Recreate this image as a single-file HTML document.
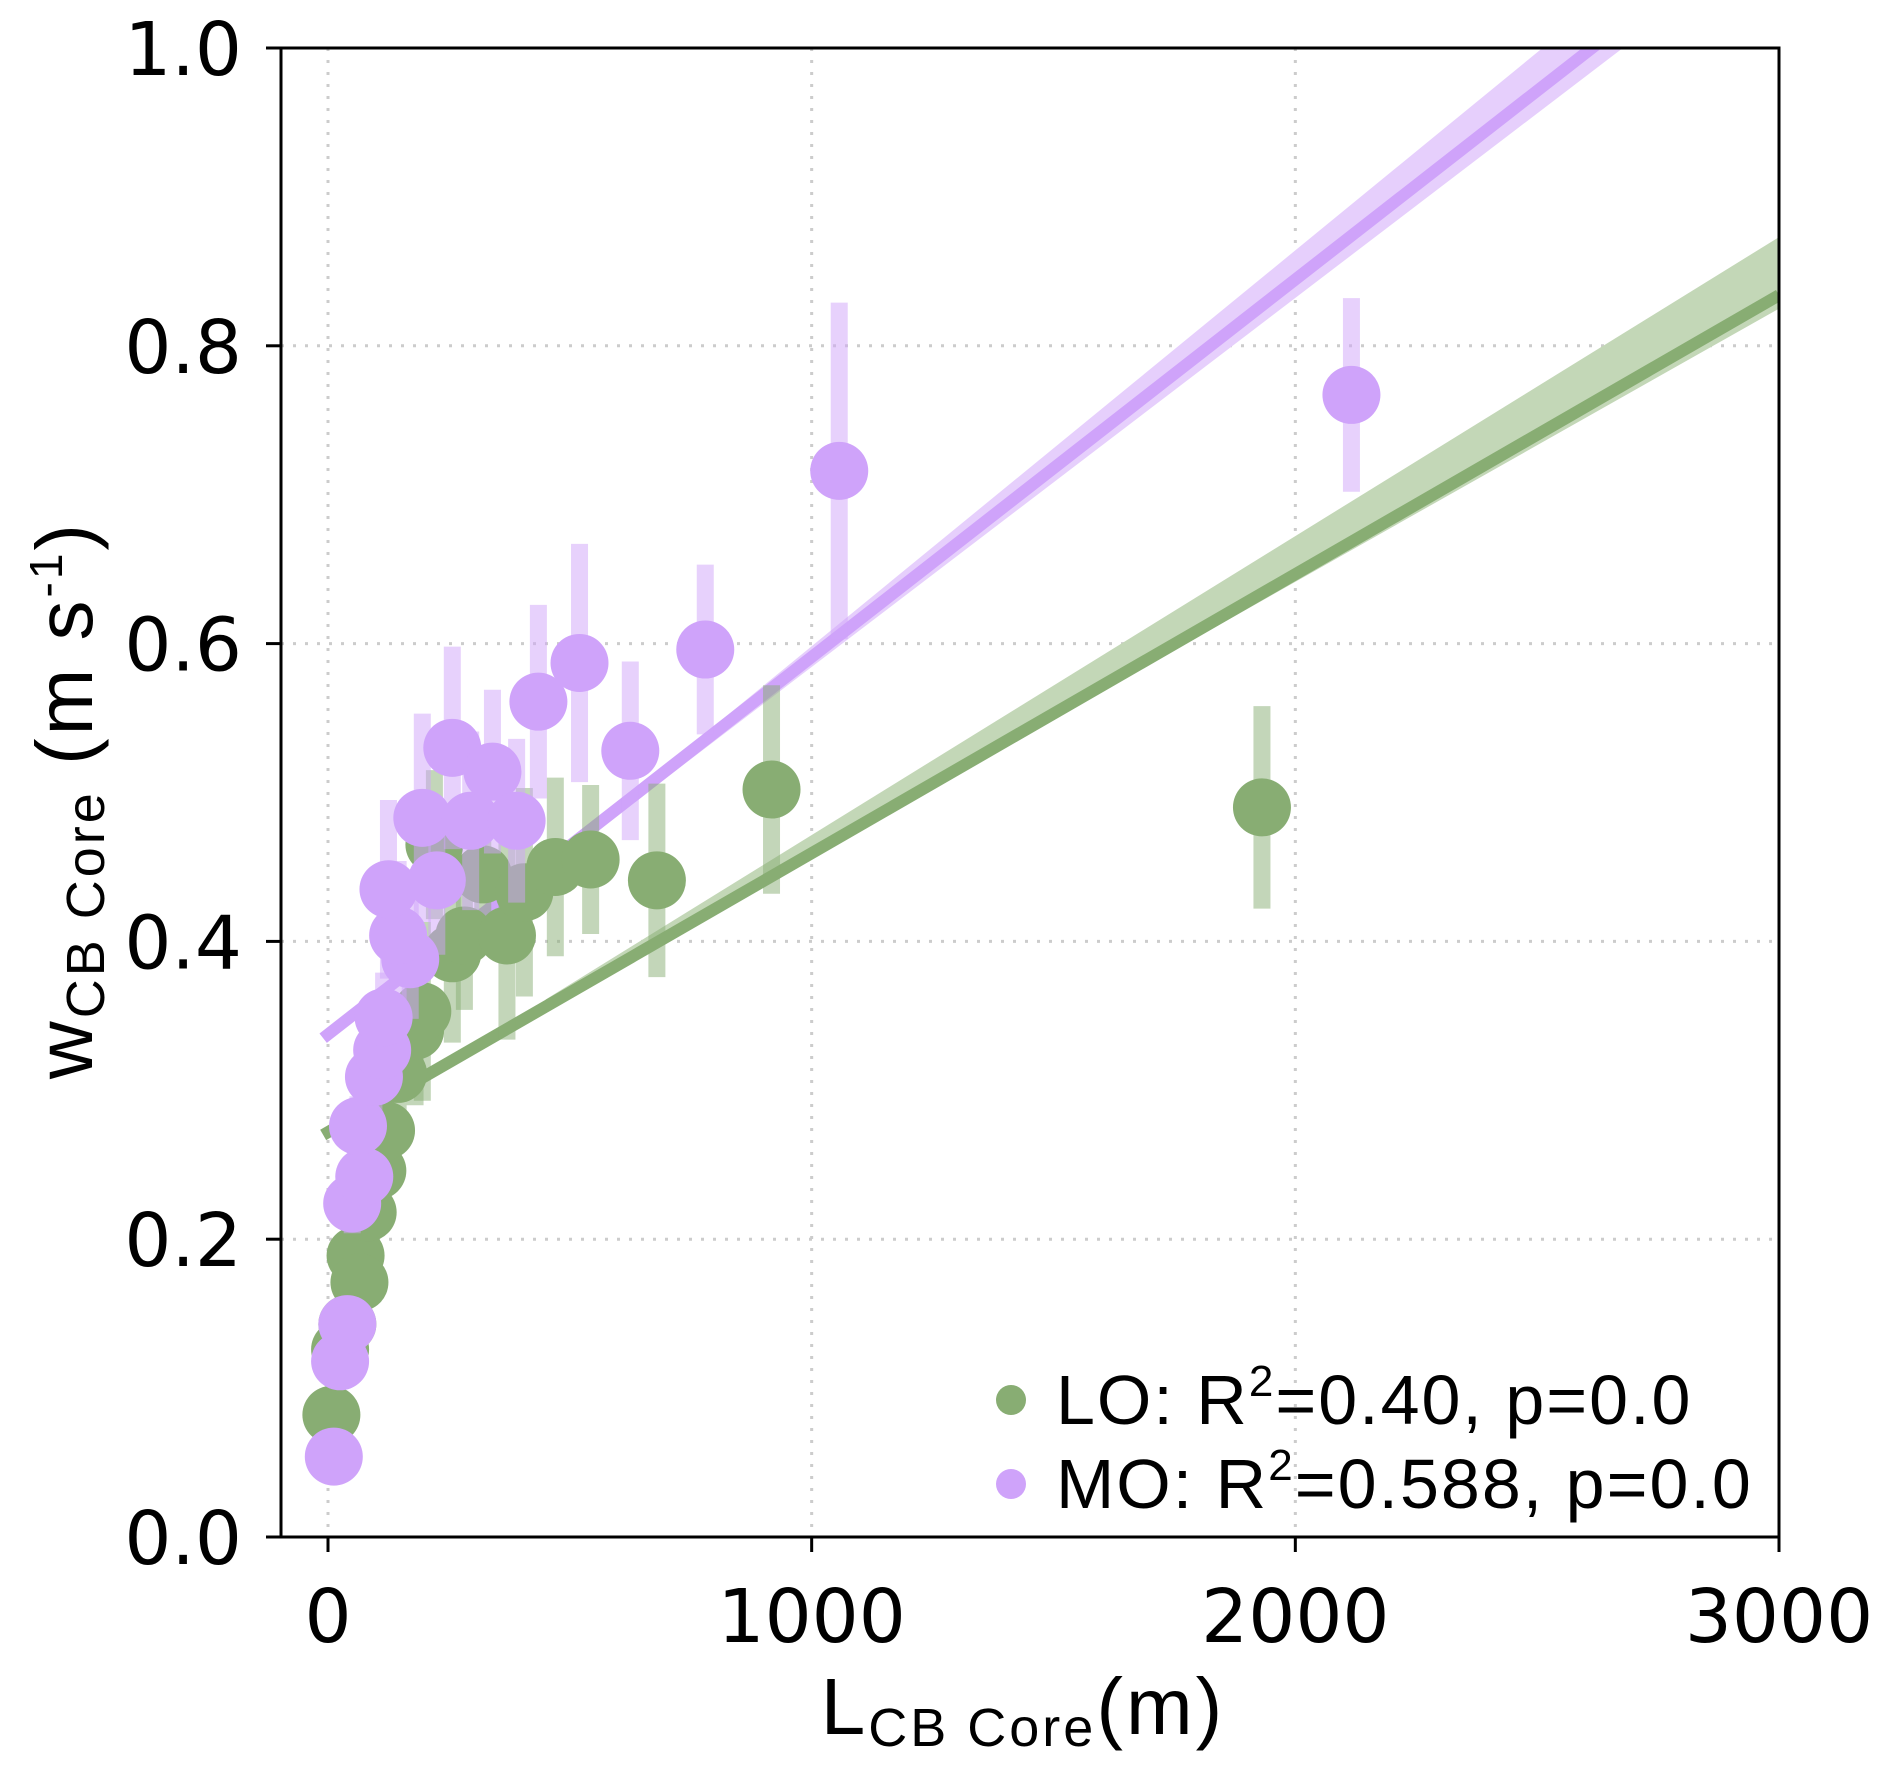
<!DOCTYPE html>
<html><head><meta charset="utf-8"><style>
html,body{margin:0;padding:0;background:#fff}
svg{display:block}
text{font-family:"DejaVu Sans","Liberation Sans",sans-serif;fill:#000}
.lab{font-family:"Liberation Sans","DejaVu Sans",sans-serif}
</style></head><body>
<svg id="chart" width="1892" height="1776" viewBox="0 0 1892 1776" xmlns="http://www.w3.org/2000/svg">
<defs><clipPath id="clip"><rect x="281" y="48" width="1498" height="1489"/></clipPath></defs>
<g id="grid"></g>
<g id="plot" clip-path="url(#clip)"></g>
<rect x="281" y="48" width="1498" height="1489" fill="none" stroke="#000" stroke-width="3"/>
<g id="ticks"></g>
<text class="lab" x="1023" y="1734" font-size="80" text-anchor="middle" letter-spacing="3">L<tspan font-size="54" dy="12">CB Core</tspan><tspan dy="-12">(m)</tspan></text>
<text class="lab" transform="translate(92,800) rotate(-90)" font-size="80" text-anchor="middle" letter-spacing="3">w<tspan font-size="54" dy="12">CB Core</tspan><tspan dy="-12"> (m s</tspan><tspan font-size="46" dy="-30">-1</tspan><tspan dy="30">)</tspan></text>
<g>
<g><circle cx="1011" cy="1400" r="15" fill="#88ad73"/><text class="lab" x="1056" y="1424" font-size="70" letter-spacing="2">LO: R<tspan font-size="44" dy="-28">2</tspan><tspan dy="28">=0.40, p=0.0</tspan></text></g>
<g><circle cx="1011" cy="1484" r="15" fill="#cfa3fa"/><text class="lab" x="1056" y="1508" font-size="70" letter-spacing="2">MO: R<tspan font-size="44" dy="-28">2</tspan><tspan dy="28">=0.588, p=0.0</tspan></text></g>
</g>
</svg>
<script>
const xTicks=[0,1000,2000,3000];
const yTicks=[0,0.2,0.4,0.6,0.8,1.0];
const yTickLabels=["0.0","0.2","0.4","0.6","0.8","1.0"];
const loX=[7,25,40,57,65,82,102,120,145,180,195,257,282,370,320,406,470,543,680,220,917,1931];
const loY=[0.082,0.126,0.143,0.189,0.171,0.218,0.246,0.273,0.311,0.34,0.353,0.392,0.404,0.404,0.445,0.433,0.45,0.455,0.441,0.465,0.502,0.49];
const loErr=[0.01,0.015,0.015,0.02,0.02,0.025,0.03,0.03,0.03,0.05,0.06,0.06,0.05,0.07,0.05,0.07,0.06,0.05,0.065,0.05,0.07,0.068];
const moX=[12,25,40,50,75,62,95,112,115,170,145,125,225,195,257,295,340,390,435,520,625,780,1057,2116];
const moY=[0.054,0.118,0.143,0.224,0.242,0.276,0.309,0.327,0.349,0.388,0.404,0.435,0.441,0.483,0.530,0.481,0.514,0.481,0.561,0.587,0.528,0.596,0.716,0.767];
const moErr=[0.01,0.015,0.015,0.02,0.02,0.02,0.025,0.03,0.03,0.04,0.05,0.06,0.05,0.07,0.068,0.06,0.055,0.055,0.065,0.08,0.06,0.057,0.113,0.065];
const fitX=[-10,3000];
const loFitY=[0.270,0.834];
const moFitY=[0.335,1.098];
const bandX=[450,3000];
const loBandUp=[0.361,0.873];
const loBandLo=[0.357,0.825];
const moBandUp=[0.452,1.13];
const moBandLo=[0.448,1.08];

const X0=328,XS=(1779-328)/3000,Y0=1537,YS=1537-48;
const sx=v=>X0+v*XS, sy=v=>Y0-v*YS;
const NS="http://www.w3.org/2000/svg";
function mk(tag,parent,attrs){const e=document.createElementNS(NS,tag);for(const k in attrs)e.setAttribute(k,attrs[k]);parent.appendChild(e);return e;}
const grid=document.getElementById('grid'),plot=document.getElementById('plot'),ticks=document.getElementById('ticks');
xTicks.forEach(t=>{
 const g=mk('line',grid,{x1:sx(t),x2:sx(t),y1:48,y2:1537,stroke:'#cccccc','stroke-width':3,'stroke-dasharray':'3 9'});
 
 
 const tk=mk('line',ticks,{x1:sx(t),x2:sx(t),y1:1537,y2:1552,stroke:'#000','stroke-width':3});
 
 
 const tl=mk('text',ticks,{x:sx(t),y:1642,'font-size':74,'text-anchor':'middle'});tl.textContent=t;
 
 
});
yTicks.forEach((t,i)=>{
 const g=mk('line',grid,{x1:281,x2:1779,y1:sy(t),y2:sy(t),stroke:'#cccccc','stroke-width':3,'stroke-dasharray':'3 9'});
 
 
 const tk=mk('line',ticks,{x1:266,x2:281,y1:sy(t),y2:sy(t),stroke:'#000','stroke-width':3});
 
 
 const tl=mk('text',ticks,{x:242,y:sy(t)+27,'font-size':74,'text-anchor':'end'});tl.textContent=yTickLabels[i];
 
 
});
function band(up,lo,col,name){
 const pts=[[bandX[0],up[0]],[bandX[1],up[1]],[bandX[1],lo[1]],[bandX[0],lo[0]]].map(p=>sx(p[0])+','+sy(p[1])).join(' ');
 const b=mk('polygon',plot,{points:pts,fill:col});
 
 
}
band(loBandUp,loBandLo,'#c3d7b7','lo-confidence-band');
band(moBandUp,moBandLo,'#e6cffc','mo-confidence-band');
function fit(ys,col,name){
 const l=mk('line',plot,{x1:sx(fitX[0]),y1:sy(ys[0]),x2:sx(fitX[1]),y2:sy(ys[1]),stroke:col,'stroke-width':12});
 
 
}
fit(loFitY,'#88ad73','lo-fit-line');
fit(moFitY,'#cfa3fa','mo-fit-line');
function series(xs,ys,es,col,ecol,name){
 xs.forEach((x,i)=>{
  const e=mk('line',plot,{x1:sx(x),x2:sx(x),y1:sy(ys[i]-es[i]),y2:sy(ys[i]+es[i]),stroke:ecol,'stroke-width':17,'stroke-opacity':0.5});
  
  
 });
 xs.forEach((x,i)=>{
  const c=mk('circle',plot,{cx:sx(x),cy:sy(ys[i]),r:29,fill:col});
  
  
 });
}
series(loX,loY,loErr,'#88ad73','#88ad73','lo');
series(moX,moY,moErr,'#cfa3fa','#cfa3fa','mo');
</script>
</body></html>
